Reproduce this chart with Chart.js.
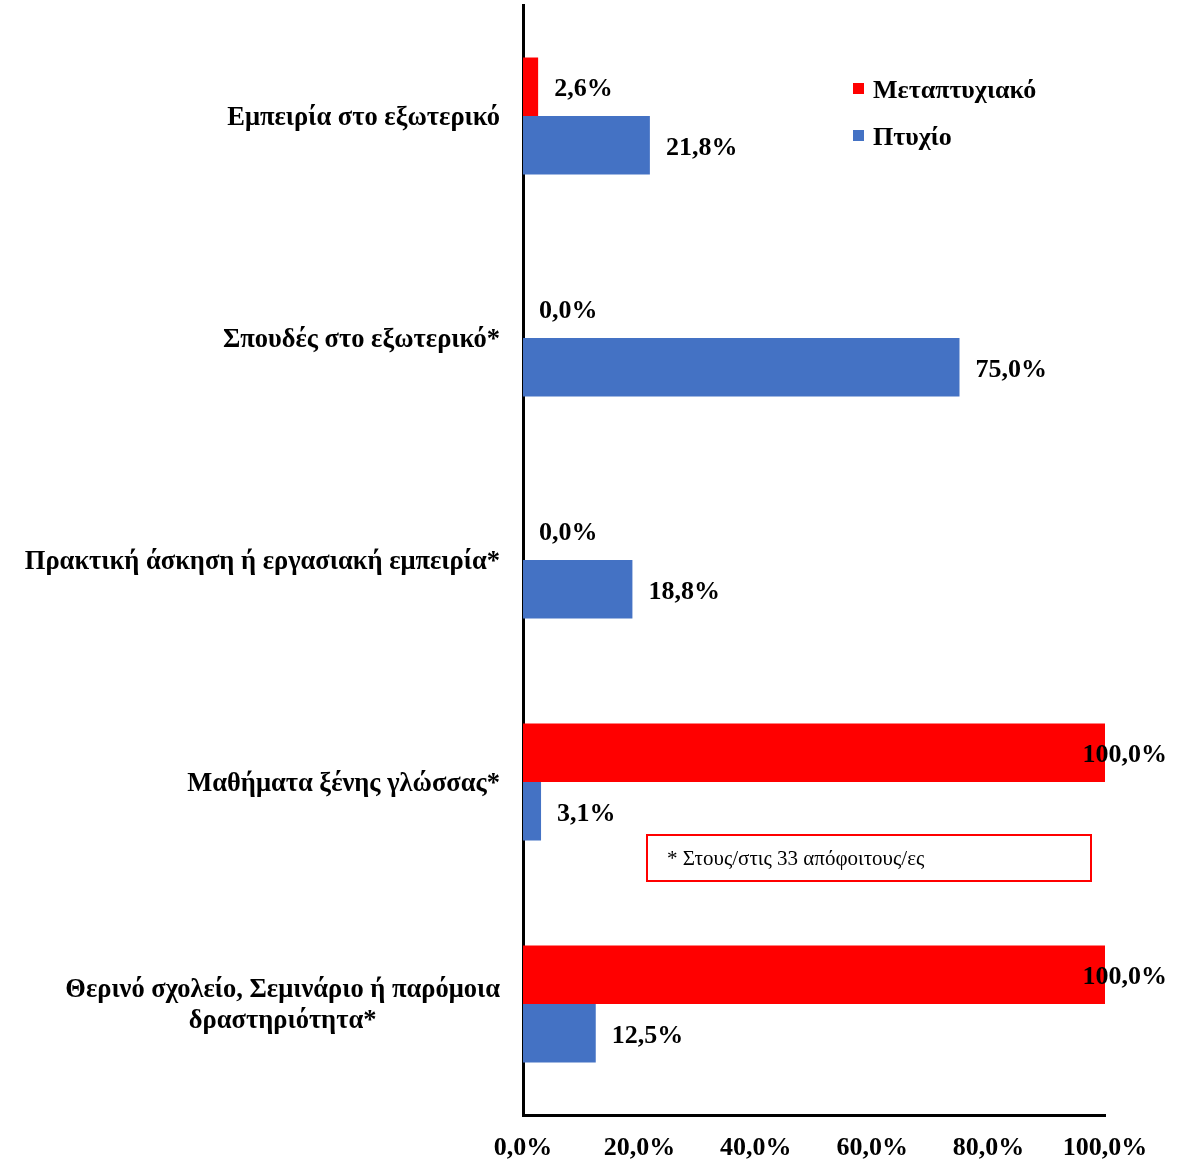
<!DOCTYPE html>
<html>
<head>
<meta charset="utf-8">
<script src="https://cdn.jsdelivr.net/npm/chart.js@4/dist/chart.umd.min.js"></script>
<style>
    body { margin: 0; background: #fff; }
    #chart { display: block; }
</style>
</head>
<body>
<canvas id="chart" width="1181" height="1160"></canvas>
<script>
const categories = [
    ['Εμπειρία στο εξωτερικό'],
    ['Σπουδές στο εξωτερικό*'],
    ['Πρακτική άσκηση ή εργασιακή εμπειρία*'],
    ['Μαθήματα ξένης γλώσσας*'],
    ['Θερινό σχολείο, Σεμινάριο ή παρόμοια', 'δραστηριότητα*']
];
const seriesNames = ['Μεταπτυχιακό', 'Πτυχίο'];
const masters = [2.6, 0.0, 0.0, 100.0, 100.0];
const degree = [21.8, 75.0, 18.8, 3.1, 12.5];
const colors = ['#FF0000', '#4472C4'];
const noteText = '* Στους/στις 33 απόφοιτους/ες';

const serif = "'Liberation Serif', 'Times New Roman', serif";

function pct(v) {
    return v.toFixed(1).replace('.', ',') + '%';
}

// value labels, category labels, legend and the footnote box
const extras = {
    id: 'extras',
    afterDraw(chart) {
        const ctx = chart.ctx;
        const yScale = chart.scales.y;
        ctx.save();
        ctx.fillStyle = '#000';

        // category labels, lines centred on each other, right edge near the axis
        ctx.font = 'bold 26.5px ' + serif;
        ctx.textBaseline = 'middle';
        ctx.textAlign = 'center';
        const lineH = 31;
        categories.forEach((lines, i) => {
            const cy = yScale.getPixelForValue(i) + 2;
            const maxW = Math.max(...lines.map(l => ctx.measureText(l).width));
            const cx = chart.chartArea.left - 23 - maxW / 2;
            const y0 = cy - (lines.length - 1) * lineH / 2;
            lines.forEach((l, k) => ctx.fillText(l, cx, y0 + k * lineH));
        });

        // value labels
        ctx.font = 'bold 26px ' + serif;
        ctx.textAlign = 'left';
        chart.data.datasets.forEach((ds, d) => {
            const meta = chart.getDatasetMeta(d);
            meta.data.forEach((el, i) => {
                const txt = pct(ds.data[i]);
                const w = ctx.measureText(txt).width;
                const x = Math.min(el.x + 16, chart.width - 14 - w);
                ctx.fillText(txt, x, el.y + 3);
            });
        });

        // legend
        ctx.font = 'bold 26px ' + serif;
        chart.data.datasets.forEach((ds, d) => {
            const y = 89 + d * 47;
            ctx.fillStyle = ds.backgroundColor;
            ctx.fillRect(853, y - 6, 11, 11);
            ctx.fillStyle = '#000';
            ctx.fillText(ds.label, 873, y + 2);
        });

        // note box
        ctx.strokeStyle = '#FF0000';
        ctx.lineWidth = 2;
        ctx.strokeRect(647, 835, 444, 46);
        ctx.font = '21px ' + serif;
        ctx.fillText(noteText, 667, 859);

        ctx.restore();
    }
};

new Chart(document.getElementById('chart'), {
    type: 'bar',
    data: {
        labels: categories,
        datasets: [
            { label: seriesNames[0], data: masters, backgroundColor: colors[0] },
            { label: seriesNames[1], data: degree, backgroundColor: colors[1] }
        ]
    },
    options: {
        indexAxis: 'y',
        responsive: false,
        animation: false,
        categoryPercentage: 0.527,
        barPercentage: 1.0,
        layout: { padding: { top: 5, right: 76, left: 0, bottom: 0 } },
        plugins: {
            legend: { display: false },
            tooltip: { enabled: false }
        },
        scales: {
            x: {
                min: 0,
                max: 100,
                grid: { display: false, drawTicks: false },
                border: { color: '#000', width: 3 },
                ticks: {
                    stepSize: 20,
                    padding: 18,
                    color: '#000',
                    font: { family: serif, size: 26, weight: 'bold' },
                    callback: v => pct(v)
                },
                afterFit: s => { s.height = 45; }
            },
            y: {
                grid: { display: false, drawTicks: false },
                border: { color: '#000', width: 3 },
                ticks: { display: false },
                afterFit: s => { s.width = 523; }
            }
        }
    },
    plugins: [extras]
});
</script>
</body>
</html>
